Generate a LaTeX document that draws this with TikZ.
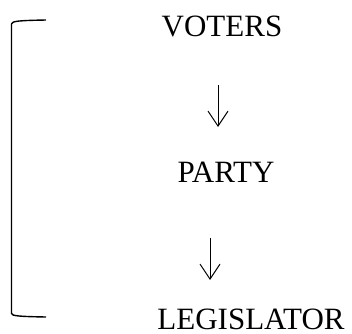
\documentclass[tikz,border=0pt]{standalone}
\usepackage{fontspec}
\setmainfont{Liberation Serif}
\usetikzlibrary{arrows.meta}
\begin{document}
\begin{tikzpicture}[x=1pt,y=1pt,
  label/.style={font=\fontsize{31}{36}\selectfont, inner sep=0pt, anchor=base},
  flow/.style={line width=1pt, -{Straight Barb[length=15pt,width=20pt,line width=1pt]}},
  brace/.style={line width=1.4pt}]
\useasboundingbox (0,0) rectangle (352,333);
\node[label] (voters) at (222,297) {VOTERS};
\node[label] (party) at (226,151) {PARTY};
\node[label] (legis) at (251,4) {LEGISLATOR};
% arrows between the levels
\coordinate (a1s) at (218,248);
\coordinate (a1e) at (218,206);
\coordinate (a2s) at (210,95);
\coordinate (a2e) at (210,53);
\draw[flow] (a1s) -- (a1e);
\draw[flow] (a2s) -- (a2e);
% bracket on the left
\coordinate (bt) at (46,313);
\coordinate (bb) at (46,16);
\draw[brace] (bt) .. controls (20,312.5) and (11.5,312) .. (11.5,309) -- (11.5,19.5) .. controls (11.5,17) and (20,16.5) .. (bb);
\end{tikzpicture}
\end{document}
